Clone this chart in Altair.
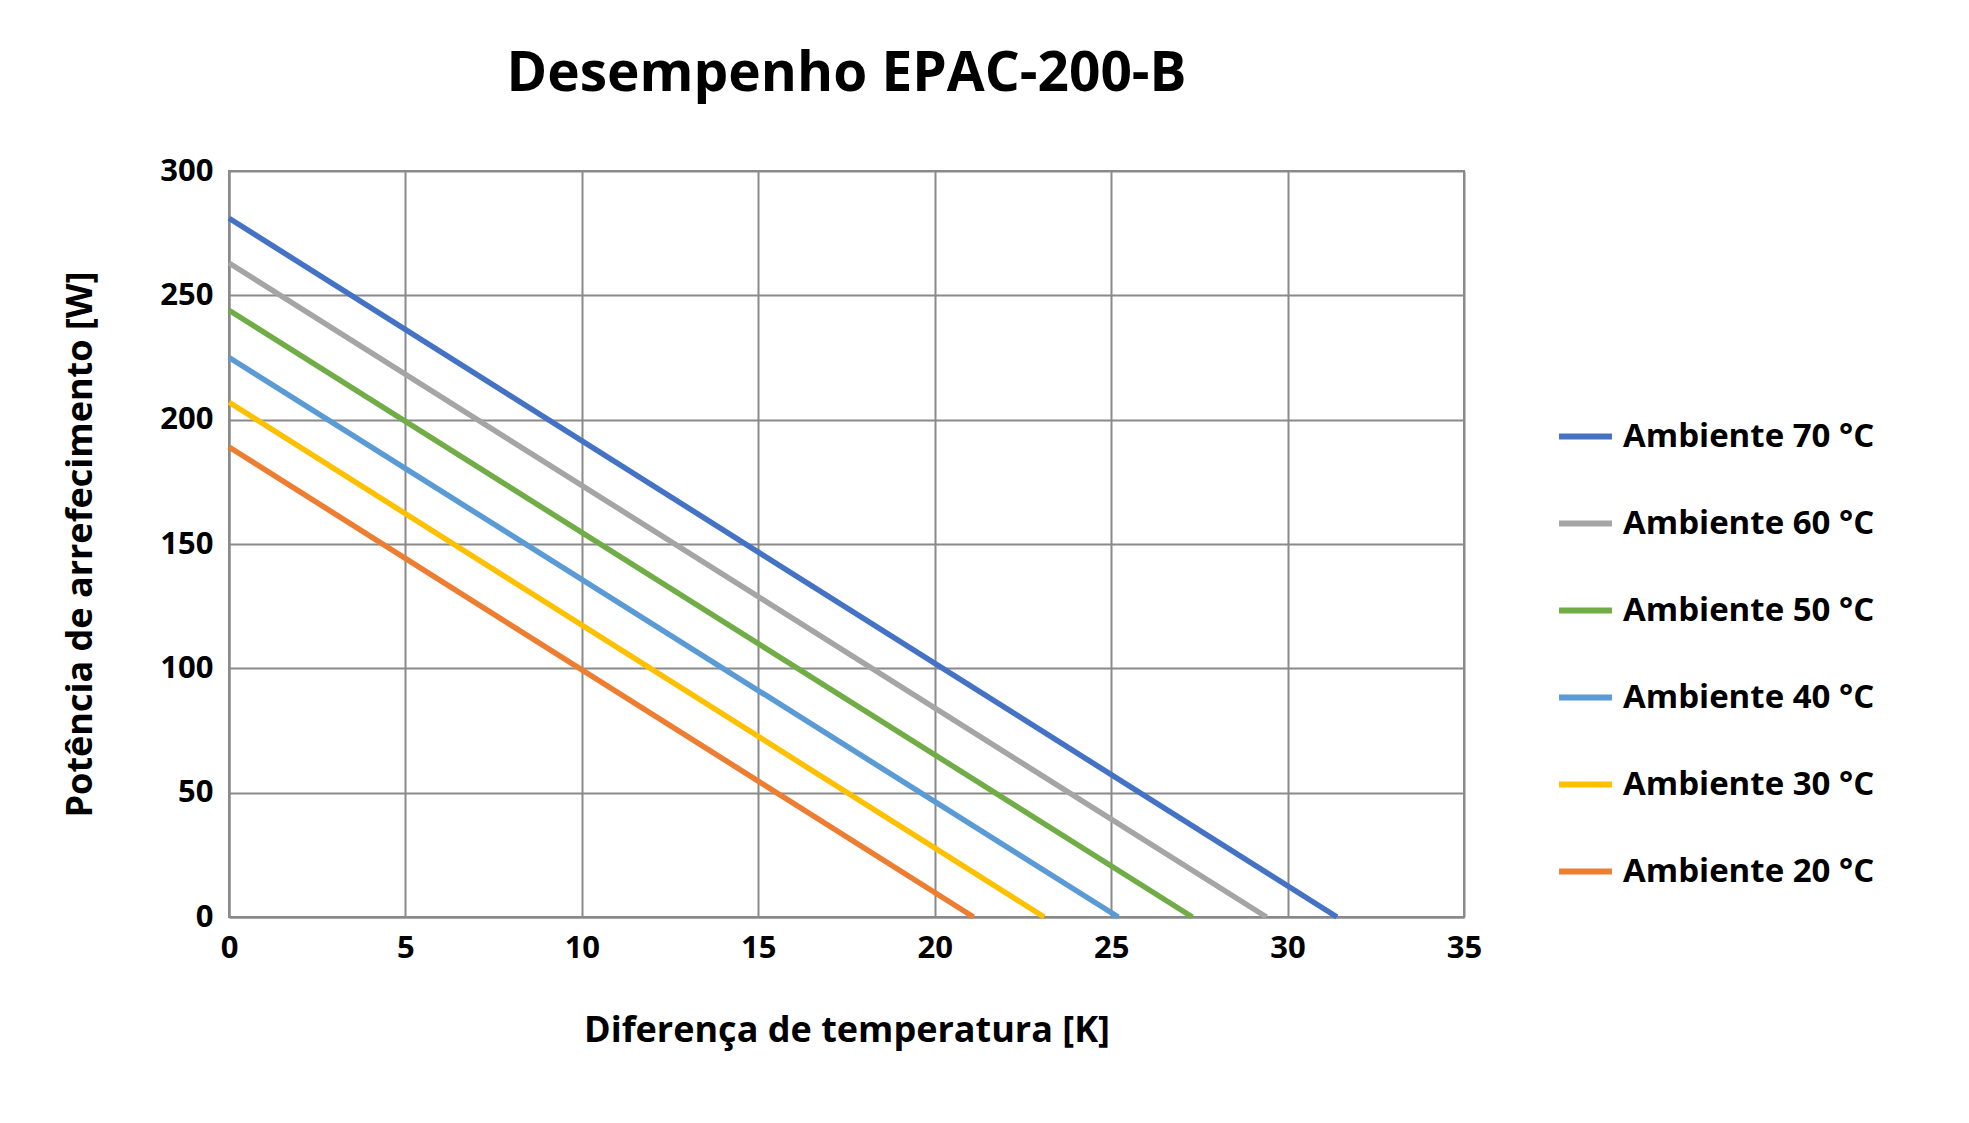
import altair as alt
import pandas as pd

series = ["Ambiente 70 °C", "Ambiente 60 °C", "Ambiente 50 °C",
          "Ambiente 40 °C", "Ambiente 30 °C", "Ambiente 20 °C"]
q_max = [281, 263, 244, 225, 207, 189]
dt_max = [31.4, 29.4, 27.3, 25.2, 23.1, 21.1]
colors = ["#4472C4", "#A5A5A5", "#70AD47", "#5B9BD5", "#FFC000", "#ED7D31"]

rows = []
for s, q, d in zip(series, q_max, dt_max):
    rows.append({"serie": s, "dT": 0, "Q": q})
    rows.append({"serie": s, "dT": d, "Q": 0})
df = pd.DataFrame(rows)

font = "Open Sans"

chart = alt.Chart(df).mark_line(strokeWidth=5.5).encode(
    x=alt.X("dT:Q", title="Diferença de temperatura [K]",
            scale=alt.Scale(domain=[0, 35], nice=False),
            axis=alt.Axis(values=list(range(0, 36, 5)), titlePadding=50, labelFlush=False)),
    y=alt.Y("Q:Q", title="Potência de arrefecimento [W]",
            scale=alt.Scale(domain=[0, 300], nice=False),
            axis=alt.Axis(values=list(range(0, 301, 50)), titlePadding=60)),
    color=alt.Color("serie:N", sort=series,
                    scale=alt.Scale(domain=series, range=colors),
                    legend=alt.Legend(title=None, orient="none", legendX=1327, legendY=236,
                                      symbolType="stroke", symbolStrokeWidth=6, symbolSize=2800,
                                      labelFontSize=33, labelFont=font, labelFontWeight="bold",
                                      labelColor="black", rowPadding=40, labelOffset=8,
                                      labelLimit=500)),
    detail="serie:N",
).properties(
    width=1235, height=746,
    title=alt.TitleParams("Desempenho EPAC-200-B", fontSize=55, font=font,
                          fontWeight="bold", color="black", offset=52),
    autosize=alt.AutoSizeParams(type="none"),
    padding={"left": 221, "top": 163, "right": 490, "bottom": 190},
).configure_axis(
    labelFont=font, labelFontSize=31, labelFontWeight="bold", labelColor="black",
    titleFont=font, titleFontSize=36, titleFontWeight="bold", titleColor="black",
    gridColor="#8a8a8a", gridWidth=2, domainColor="#8a8a8a", domainWidth=2,
    ticks=False, labelPadding=16,
).configure_view(stroke="#8a8a8a", strokeWidth=2)

chart.save("out.html", embed_options={"renderer": "svg", "actions": False})
